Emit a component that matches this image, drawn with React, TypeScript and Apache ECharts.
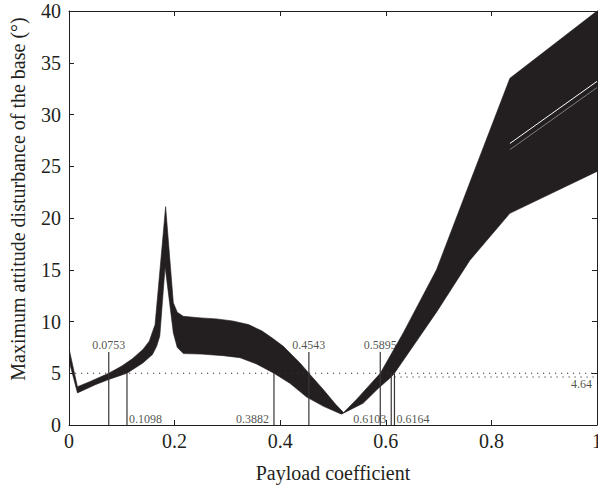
import { useEffect, useRef } from "react";
import * as echarts from "echarts";

// Upper envelope of the response band: [payload coefficient, max attitude disturbance (deg)]
const upperEnvelope: [number, number][] = [
  [0, 7.4], [0.016, 3.7], [0.04, 4.2], [0.0753, 5.0], [0.1, 5.7], [0.12, 6.4], [0.14, 7.3],
  [0.152, 8.1], [0.163, 9.7], [0.183, 21.1], [0.1976, 11.8], [0.205, 10.9], [0.2165, 10.5],
  [0.25, 10.35], [0.28, 10.25], [0.31, 10.05], [0.34, 9.7], [0.365, 9.1], [0.385, 8.4],
  [0.406, 7.6], [0.4375, 6.0], [0.4543, 5.0], [0.482, 3.4], [0.505, 2.0], [0.52, 1.2],
  [0.545, 2.5], [0.5895, 5.0], [0.633, 8.9], [0.696, 15.0], [0.759, 23.4], [0.835, 33.5],
  [1.0, 40.0],
];

// Lower envelope of the response band
const lowerEnvelope: [number, number][] = [
  [0, 6.2], [0.016, 3.1], [0.05, 3.9], [0.0753, 4.4], [0.1098, 5.0], [0.14, 6.0],
  [0.158, 6.8], [0.166, 7.6], [0.172, 8.6], [0.182, 15.3], [0.1976, 8.9], [0.205, 7.5],
  [0.2165, 6.9], [0.25, 6.85], [0.292, 6.7], [0.324, 6.5], [0.355, 5.9], [0.3882, 5.0],
  [0.419, 4.0], [0.45, 2.7], [0.482, 1.8], [0.516, 1.05], [0.557, 2.1], [0.585, 3.5],
  [0.6103, 4.64], [0.6164, 5.0], [0.696, 10.9], [0.759, 15.9], [0.835, 20.45], [1.0, 24.5],
];

// Thin gaps visible inside the band on the right
const gapLineA: [number, number][] = [[0.835, 27.2], [1.0, 33.2]];
const gapLineB: [number, number][] = [[0.835, 26.6], [1.0, 32.6]];

// Marked payload coefficients and the height of each marker line
const cutX = [0.0753, 0.1098, 0.3882, 0.4543, 0.5895, 0.6103, 0.6164];
const cutTop = [7.05, 5.0, 5.0, 7.05, 7.05, 5.0, 5.0];
const cutLabels = ["0.0753", "0.1098", "0.3882", "0.4543", "0.5895", "0.6103", "0.6164"];

// Thresholds
const thresholdMain = 5;
const thresholdSecond = 4.64;
const thresholdSecondStart = 0.6164;
const thresholdSecondLabel = "4.64";

// Axis ranges
const xRange = [0, 1];
const yRange = [0, 40];

const INK = "#231f20";
const FONT = "'Liberation Serif', 'DejaVu Serif', serif";

// label placement (style only)
const cutPlacement: ("top" | "left" | "right")[] = ["top", "right", "left", "top", "top", "left", "right"];
const bottomLabelY = 0.62;

export default function App() {
  const ref = useRef<HTMLDivElement>(null);

  useEffect(() => {
    if (!ref.current) return;
    const chart = echarts.init(ref.current, null, { renderer: "svg" });

    const lineSeries: any[] = cutX.map((x, i) => ({
      type: "line",
      xAxisIndex: 0,
      yAxisIndex: 0,
      data: [[x, 0], [x, cutTop[i]]],
      symbol: "none",
      silent: true,
      z: 4,
      lineStyle: { color: "#3a3536", width: 1.2 },
    }));

    const labelData = cutX.map((x, i) => {
      const pos = cutPlacement[i];
      return {
        value: pos === "top" ? [x, cutTop[i]] : [x, bottomLabelY],
        label: {
          show: true,
          formatter: cutLabels[i],
          position: pos,
          distance: pos === "top" ? 1 : pos === "left" ? 5 : 2,
        },
      };
    });

    const option: any = {
      animation: false,
      backgroundColor: "#ffffff",
      textStyle: { fontFamily: FONT, color: INK },
      grid: { left: 69, right: 1, top: 11, bottom: 63, containLabel: false, outerBoundsMode: "none" },
      xAxis: [
        {
          type: "value",
          min: xRange[0],
          max: xRange[1],
          interval: 0.2,
          position: "bottom",
          name: "Payload coefficient",
          nameLocation: "middle",
          nameGap: 38,
          nameTextStyle: { fontFamily: FONT, fontSize: 20, color: INK },
          axisLine: { show: true, onZero: false, lineStyle: { color: INK, width: 1 } },
          axisTick: { show: true, inside: true, length: 5, lineStyle: { color: INK } },
          axisLabel: { fontFamily: FONT, fontSize: 20, color: INK, margin: 6 },
          splitLine: { show: false },
        },
        {
          type: "value",
          min: xRange[0],
          max: xRange[1],
          interval: 0.2,
          position: "top",
          axisLine: { show: true, onZero: false, lineStyle: { color: INK, width: 1 } },
          axisTick: { show: true, inside: true, length: 5, lineStyle: { color: INK } },
          axisLabel: { show: false },
          splitLine: { show: false },
        },
      ],
      yAxis: [
        {
          type: "value",
          min: yRange[0],
          max: yRange[1],
          interval: 5,
          position: "left",
          axisLine: { show: true, onZero: false, lineStyle: { color: INK, width: 1 } },
          axisTick: { show: true, inside: true, length: 5, lineStyle: { color: INK } },
          axisLabel: { fontFamily: FONT, fontSize: 20, color: INK, margin: 8 },
          splitLine: { show: false },
        },
        {
          type: "value",
          min: yRange[0],
          max: yRange[1],
          interval: 5,
          position: "right",
          axisLine: { show: true, onZero: false, lineStyle: { color: INK, width: 1 } },
          axisTick: { show: true, inside: true, length: 5, lineStyle: { color: INK } },
          axisLabel: { show: false },
          splitLine: { show: false },
        },
      ],
      graphic: [
        {
          type: "text",
          x: 18,
          y: 199,
          rotation: Math.PI / 2,
          style: {
            text: "Maximum attitude disturbance of the base (°)",
            font: `20px ${FONT}`,
            fill: INK,
            textAlign: "center",
            textVerticalAlign: "middle",
          },
        },
      ],
      series: [
        {
          type: "custom",
          coordinateSystem: "cartesian2d",
          xAxisIndex: 0,
          yAxisIndex: 0,
          data: [[0, 0]],
          silent: true,
          clip: true,
          z: 2,
          renderItem: (_params: any, api: any) => {
            const pts = upperEnvelope
              .map((p) => api.coord(p))
              .concat(lowerEnvelope.slice().reverse().map((p) => api.coord(p)));
            return {
              type: "polygon",
              shape: { points: pts },
              style: { fill: INK, stroke: INK, lineWidth: 0.6 },
            };
          },
        },
        {
          type: "line",
          data: gapLineA,
          symbol: "none",
          silent: true,
          z: 3,
          lineStyle: { color: "#ffffff", width: 1 },
        },
        {
          type: "line",
          data: gapLineB,
          symbol: "none",
          silent: true,
          z: 3,
          lineStyle: { color: "#ffffff", width: 0.6, opacity: 0.7 },
        },
        ...lineSeries,
        {
          type: "line",
          data: [[xRange[0], thresholdMain], [xRange[1], thresholdMain]],
          symbol: "none",
          silent: true,
          z: 5,
          lineStyle: { color: "#3a3536", width: 1.2, type: [1.2, 4.8] },
        },
        {
          type: "line",
          data: [[thresholdSecondStart, thresholdSecond], [xRange[1], thresholdSecond]],
          symbol: "none",
          silent: true,
          z: 5,
          lineStyle: { color: "#3a3536", width: 1.2, type: [1.2, 4.8] },
        },
        {
          type: "scatter",
          symbolSize: 0,
          silent: true,
          z: 6,
          data: labelData,
          label: { fontFamily: FONT, fontSize: 12, color: INK },
        },
        {
          type: "scatter",
          symbolSize: 0,
          silent: true,
          z: 6,
          data: [
            {
              value: [xRange[1], thresholdSecond - 0.7],
              label: { show: true, formatter: thresholdSecondLabel, position: "left", distance: 5 },
            },
          ],
          label: { fontFamily: FONT, fontSize: 12, color: INK },
        },
      ],
    };

    chart.setOption(option);
    return () => chart.dispose();
  }, []);

  return (
    <div
      ref={ref}
      style={{ position: "fixed", left: 0, top: 0, width: 598, height: 488, background: "#fff" }}
    />
  );
}
